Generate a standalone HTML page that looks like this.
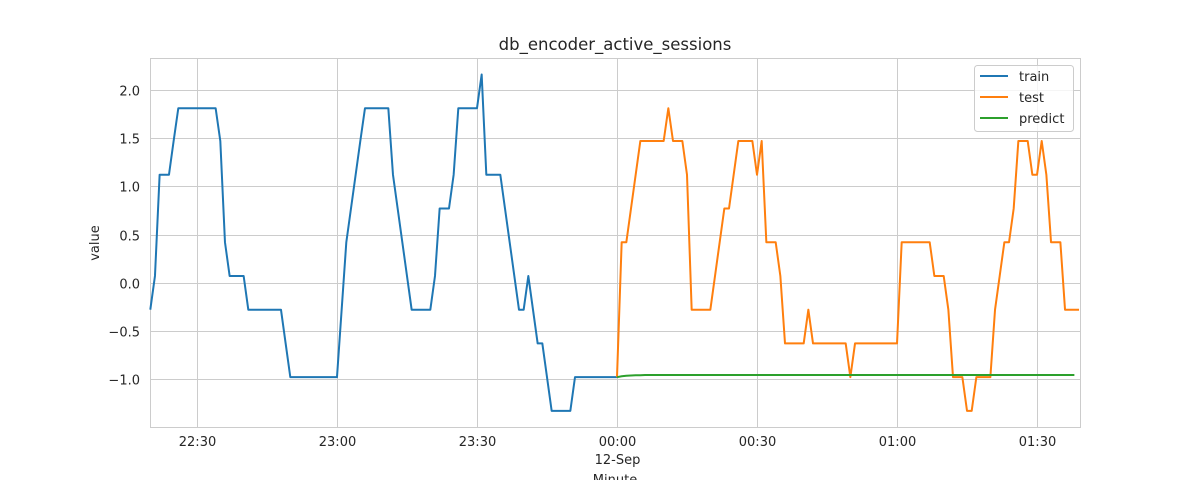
<!DOCTYPE html>
<html><head><meta charset="utf-8">
<style>
body{margin:0;background:#fff;font-family:"Liberation Sans","DejaVu Sans",sans-serif;}
svg text{font-family:"DejaVu Sans","Liberation Sans",sans-serif;fill:#262626;}
</style></head>
<body>
<svg id="chart" width="1199" height="480" xmlns="http://www.w3.org/2000/svg">
<rect x="0" y="0" width="1199" height="480" fill="#fff"/>
<g id="grid"></g>
<rect x="150.5" y="58.5" width="930" height="369" fill="none" stroke="#cccccc" stroke-width="1"/>
<g id="series"></g>
<g id="axes"></g>
<text x="615" y="50" font-size="16.5" text-anchor="middle">db_encoder_active_sessions</text>
<text x="99" y="243" font-size="13" text-anchor="middle" transform="rotate(-90 99 243)">value</text>
<text x="615" y="484" font-size="13" text-anchor="middle">Minute</text>
<g>
<rect x="974.5" y="65.5" width="99" height="66" rx="3" fill="#fff" fill-opacity="0.8" stroke="#cccccc"/>
<line x1="980" y1="76" x2="1008" y2="76" stroke="#1f77b4" stroke-width="2"/>
<text x="1019" y="81" font-size="13">train</text>
<line x1="980" y1="97" x2="1008" y2="97" stroke="#ff7f0e" stroke-width="2"/>
<text x="1019" y="102" font-size="13">test</text>
<line x1="980" y1="118" x2="1008" y2="118" stroke="#2ca02c" stroke-width="2"/>
<text x="1019" y="123" font-size="13">predict</text>
</g>
</svg>
<script>
// minutes relative to 00:00 (12-Sep); train starts at -100 (22:20)
const trainStart = -100;
const trainValues = [-0.28,0.07,1.12,1.12,1.12,1.47,1.81,1.81,1.81,1.81,1.81,1.81,1.81,1.81,1.81,1.47,0.42,0.07,0.07,0.07,0.07,-0.28,-0.28,-0.28,-0.28,-0.28,-0.28,-0.28,-0.28,-0.63,-0.98,-0.98,-0.98,-0.98,-0.98,-0.98,-0.98,-0.98,-0.98,-0.98,-0.98,-0.28,0.42,0.77,1.12,1.47,1.81,1.81,1.81,1.81,1.81,1.81,1.12,0.77,0.42,0.07,-0.28,-0.28,-0.28,-0.28,-0.28,0.07,0.77,0.77,0.77,1.12,1.81,1.81,1.81,1.81,1.81,2.16,1.12,1.12,1.12,1.12,0.77,0.42,0.07,-0.28,-0.28,0.07,-0.28,-0.63,-0.63,-0.98,-1.33,-1.33,-1.33,-1.33,-1.33,-0.98,-0.98,-0.98,-0.98,-0.98,-0.98,-0.98,-0.98,-0.98,-0.98];
const testStart = 0;
const testValues = [-0.98,0.42,0.42,0.77,1.12,1.47,1.47,1.47,1.47,1.47,1.47,1.81,1.47,1.47,1.47,1.12,-0.28,-0.28,-0.28,-0.28,-0.28,0.07,0.42,0.77,0.77,1.12,1.47,1.47,1.47,1.47,1.12,1.47,0.42,0.42,0.42,0.07,-0.63,-0.63,-0.63,-0.63,-0.63,-0.28,-0.63,-0.63,-0.63,-0.63,-0.63,-0.63,-0.63,-0.63,-0.98,-0.63,-0.63,-0.63,-0.63,-0.63,-0.63,-0.63,-0.63,-0.63,-0.63,0.42,0.42,0.42,0.42,0.42,0.42,0.42,0.07,0.07,0.07,-0.28,-0.98,-0.98,-0.98,-1.33,-1.33,-0.98,-0.98,-0.98,-0.98,-0.28,0.07,0.42,0.42,0.77,1.47,1.47,1.47,1.12,1.12,1.47,1.12,0.42,0.42,0.42,-0.28,-0.28,-0.28,-0.28];
const predictStart = 0;
const predictValues = [-0.98,-0.97,-0.965,-0.962,-0.96,-0.96,-0.958,-0.958,-0.958,-0.958,-0.958,-0.958,-0.958,-0.958,-0.958,-0.958,-0.958,-0.958,-0.958,-0.958,-0.958,-0.958,-0.958,-0.958,-0.958,-0.958,-0.958,-0.958,-0.958,-0.958,-0.958,-0.958,-0.958,-0.958,-0.958,-0.958,-0.958,-0.958,-0.958,-0.958,-0.958,-0.958,-0.958,-0.958,-0.958,-0.958,-0.958,-0.958,-0.958,-0.958,-0.958,-0.958,-0.958,-0.958,-0.958,-0.958,-0.958,-0.958,-0.958,-0.958,-0.958,-0.958,-0.958,-0.958,-0.958,-0.958,-0.958,-0.958,-0.958,-0.958,-0.958,-0.958,-0.958,-0.958,-0.958,-0.958,-0.958,-0.958,-0.958,-0.958,-0.958,-0.958,-0.958,-0.958,-0.958,-0.958,-0.958,-0.958,-0.958,-0.958,-0.958,-0.958,-0.958,-0.958,-0.958,-0.958,-0.958,-0.958,-0.958];
const yTicks = [-1.0,-0.5,0.0,0.5,1.0,1.5,2.0];
const xTickMinutes = [-90,-60,-30,0,30,60,90];
const xTickLabels = ["22:30","23:00","23:30","00:00","00:30","01:00","01:30"];

const NS="http://www.w3.org/2000/svg";
function xs(m){return 617+4.667*m;}
function ys(v){return 282.7-96.4*v;}
function mk(tag,attrs,parent){const e=document.createElementNS(NS,tag);for(const k in attrs)e.setAttribute(k,attrs[k]);parent.appendChild(e);return e;}
const grid=document.getElementById('grid'),axes=document.getElementById('axes'),series=document.getElementById('series');
yTicks.forEach(v=>{
  const y=Math.round(ys(v))+0.5;
  const l=mk('line',{x1:150,x2:1080,y1:y,y2:y,stroke:'#cccccc','stroke-width':1},grid);
  
  
  const t=mk('text',{x:140,y:y+5,'font-size':13,'text-anchor':'end'},axes);
  t.textContent=(v<0?'\u2212'+Math.abs(v).toFixed(1):v.toFixed(1));
  
  
});
xTickMinutes.forEach((m,i)=>{
  const x=Math.round(xs(m))+0.5;
  const l=mk('line',{x1:x,x2:x,y1:58,y2:427,stroke:'#cccccc','stroke-width':1},grid);
  
  
  const t=mk('text',{x:x,y:446,'font-size':13,'text-anchor':'middle'},axes);
  t.textContent=xTickLabels[i];
  
  
  if(m===0){
    const t2=mk('text',{x:x,y:464,'font-size':13,'text-anchor':'middle'},axes);
    t2.textContent='12-Sep';
    
    
  }
});
function line(vals,start,color,name){
  const pts=vals.map((v,i)=>xs(start+i).toFixed(2)+','+ys(v).toFixed(2)).join(' ');
  const p=mk('polyline',{points:pts,fill:'none',stroke:color,'stroke-width':2,'stroke-linejoin':'round'},series);
  
  
}
line(trainValues,trainStart,'#1f77b4','train-line');
line(testValues,testStart,'#ff7f0e','test-line');
line(predictValues,predictStart,'#2ca02c','predict-line');
</script>
</body></html>
